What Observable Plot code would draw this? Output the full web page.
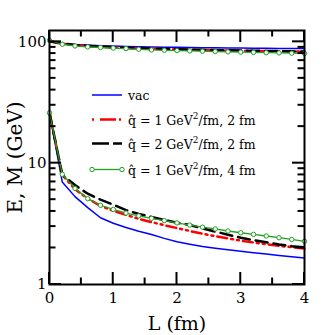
<!DOCTYPE html>
<html><head><meta charset="utf-8">
<script src="https://cdn.jsdelivr.net/npm/d3@7"></script>
<script src="https://cdn.jsdelivr.net/npm/@observablehq/plot@0.6"></script>
<style>body{margin:0;background:#fff}</style>
</head><body><div id="chart"></div>
<script>
const L = [0,0.2,0.4,0.6,0.8,1.0,1.2,1.4,1.6,1.8,2.0,2.2,2.4,2.6,2.8,3.0,3.2,3.4,3.6,3.8,4.0];
const vacE = [101,97,95.2,94,93,92.3,91.7,91.2,90.8,90.4,90.1,89.8,89.5,89.3,89.0,88.8,88.6,88.4,88.2,88.1,88.0];
const vacM = [26,7.0,5.3,4.3,3.55,3.2,2.95,2.75,2.58,2.4,2.25,2.15,2.06,1.99,1.93,1.88,1.83,1.78,1.73,1.69,1.65];
const q1E = [101,96.5,94,92.2,91,90,89.1,88.4,87.7,87.1,86.6,86.1,85.7,85.3,84.9,84.6,84.2,83.9,83.6,83.3,83.0];
const q1M = [26,8.0,6.1,5.1,4.45,4.05,3.75,3.48,3.27,3.08,2.92,2.76,2.62,2.5,2.4,2.3,2.22,2.15,2.08,2.03,1.98];
const q2E = [101,96.8,94.3,92.5,91.2,90.2,89.3,88.6,87.9,87.3,86.8,86.3,85.9,85.5,85.1,84.7,84.4,84.1,83.8,83.5,83.2];
const q2M = [26,8.0,6.6,5.6,5.0,4.55,4.1,3.82,3.6,3.40,3.23,3.09,2.90,2.73,2.57,2.43,2.32,2.23,2.14,2.07,2.02];
const q1L4E = [103,95.5,92.5,90.8,89.8,88.9,88,86.8,85.8,85.2,84.7,84.2,83.7,83.2,82.7,82.3,81.8,81.4,81,80.6,80.2];
const q1L4M = [26,8.1,6.2,5.1,4.5,4.16,3.88,3.68,3.51,3.36,3.22,3.09,2.97,2.87,2.76,2.67,2.59,2.51,2.43,2.35,2.27];

const xMajor = [0,1,2,3,4];
const xMinor = [0.5,1.5,2.5,3.5];
const xTickLabels = ["0","1","2","3","4"];
const yMajor = [1,10,100];
const yMinor = [2,3,4,5,6,7,8,9,20,30,40,50,60,70,80,90];
const yTickLabels = ["1","10","100"];
const xLabel = "L (fm)";
const yLabel = "E, M (GeV)";
const legendLabels = ["vac", "q\u0302 = 1 GeV|2|/fm, 2 fm", "q\u0302 = 2 GeV|2|/fm, 2 fm", "q\u0302 = 1 GeV|2|/fm, 4 fm"];

function rows(E, M) {
  const out = [];
  L.forEach((l, i) => out.push({L: l, v: E[i], curve: "E"}));
  L.forEach((l, i) => out.push({L: l, v: M[i], curve: "M"}));
  return out;
}
const vacRows = rows(vacE, vacM), q1Rows = rows(q1E, q1M), q2Rows = rows(q2E, q2M), q4Rows = rows(q1L4E, q1L4M);

const FONT = "DejaVu Serif";
const GREEN = "#22a022";
const RED_DASH = "10,4,2,4,2,4";
const BLACK_DASH = "12,6";

const W = 332, H = 335, ML = 49, MR = 28, MT = 30, MB = 51;
const MAJ = 12, MIN = 6.5;

const plot = Plot.plot({
  width: W, height: H,
  marginLeft: ML, marginRight: MR, marginTop: MT, marginBottom: MB,
  style: {fontFamily: FONT, background: "white", color: "black"},
  x: {domain: [0, 4]},
  y: {type: "log", domain: [1, 124]},
  marks: [
    Plot.line(vacRows, {x: "L", y: "v", z: "curve", stroke: "#0000ff", strokeWidth: 1.5}),
    Plot.line(q1Rows, {x: "L", y: "v", z: "curve", stroke: "#ff0000", strokeWidth: 2.5, strokeDasharray: RED_DASH}),
    Plot.line(q2Rows, {x: "L", y: "v", z: "curve", stroke: "black", strokeWidth: 2.5, strokeDasharray: BLACK_DASH}),
    Plot.line(q4Rows, {x: "L", y: "v", z: "curve", stroke: GREEN, strokeWidth: 1.3}),
    Plot.dot(q4Rows, {x: "L", y: "v", r: 2.2, stroke: GREEN, fill: "white", strokeWidth: 1}),
    Plot.frame({stroke: "black", strokeWidth: 2}),
    Plot.axisX({anchor: "bottom", ticks: xMajor, tickSize: 0, tickPadding: 8, fontSize: 15, label: null,
      tickFormat: d => xTickLabels[xMajor.indexOf(d)]}),
    Plot.axisY({anchor: "left", ticks: yMajor, tickSize: 0, tickPadding: 3, fontSize: 15, label: null,
      tickFormat: d => yTickLabels[yMajor.indexOf(d)]}),
    Plot.text([xLabel], {frameAnchor: "bottom", dy: 39, fontSize: 19, textAnchor: "middle", lineAnchor: "middle"}),
    Plot.text([yLabel], {frameAnchor: "left", dx: -34, rotate: -90, fontSize: 20, textAnchor: "middle", lineAnchor: "middle"})
  ]
});
document.getElementById("chart").appendChild(plot);

const svg = d3.select(plot);
// Inward mirrored ticks, positioned through Plot's own scales
const sx = plot.scale("x"), sy = plot.scale("y");
const x0 = ML, x1 = W - MR, y0 = MT, y1 = H - MB;
const tg = svg.append("g").attr("stroke", "black").attr("stroke-width", 2);
function tickX(vals, len) {
  for (const v of vals) {
    const px = sx.apply(v);
    tg.append("line").attr("x1", px).attr("x2", px).attr("y1", y1).attr("y2", y1 - len);
    tg.append("line").attr("x1", px).attr("x2", px).attr("y1", y0).attr("y2", y0 + len);
  }
}
function tickY(vals, len) {
  for (const v of vals) {
    const py = sy.apply(v);
    tg.append("line").attr("x1", x0).attr("x2", x0 + len).attr("y1", py).attr("y2", py);
    tg.append("line").attr("x1", x1).attr("x2", x1 - len).attr("y1", py).attr("y2", py);
  }
}
tickX(xMajor, MAJ); tickX(xMinor, MIN); tickY(yMajor, MAJ); tickY(yMinor, MIN);

// Legend (layout in pixels)
const lg = svg.append("g").attr("font-family", FONT).attr("font-size", 12.5).attr("text-anchor", "start");
const styles = [
  {stroke: "#0000ff", w: 1.5, dash: null, dots: false},
  {stroke: "#ff0000", w: 2.5, dash: "2,6,16,3,2,10", dots: false},
  {stroke: "black", w: 2.5, dash: "17,4", dots: false},
  {stroke: GREEN, w: 1.3, dash: null, dots: true}
];
const rowY = [95, 119.5, 143.5, 169.5];
legendLabels.forEach((lab, i) => {
  const s = styles[i], y = rowY[i];
  lg.append("line").attr("x1", 92).attr("x2", 122).attr("y1", y).attr("y2", y)
    .attr("stroke", s.stroke).attr("stroke-width", s.w).attr("stroke-dasharray", s.dash);
  if (s.dots) for (const x of [92, 122]) lg.append("circle").attr("cx", x).attr("cy", y).attr("r", 2.2)
    .attr("fill", "white").attr("stroke", s.stroke).attr("stroke-width", 1);
  const t = lg.append("text").attr("x", 128).attr("y", y + 5).attr("text-anchor", "start");
  const parts = lab.split("|");
  parts.forEach((p, j) => {
    const ts = t.append("tspan").text(p);
    if (j === 1) ts.attr("font-size", 9).attr("dy", -6);
    if (j === 2) ts.attr("dy", 6);
  });
});
</script>
</body></html>
